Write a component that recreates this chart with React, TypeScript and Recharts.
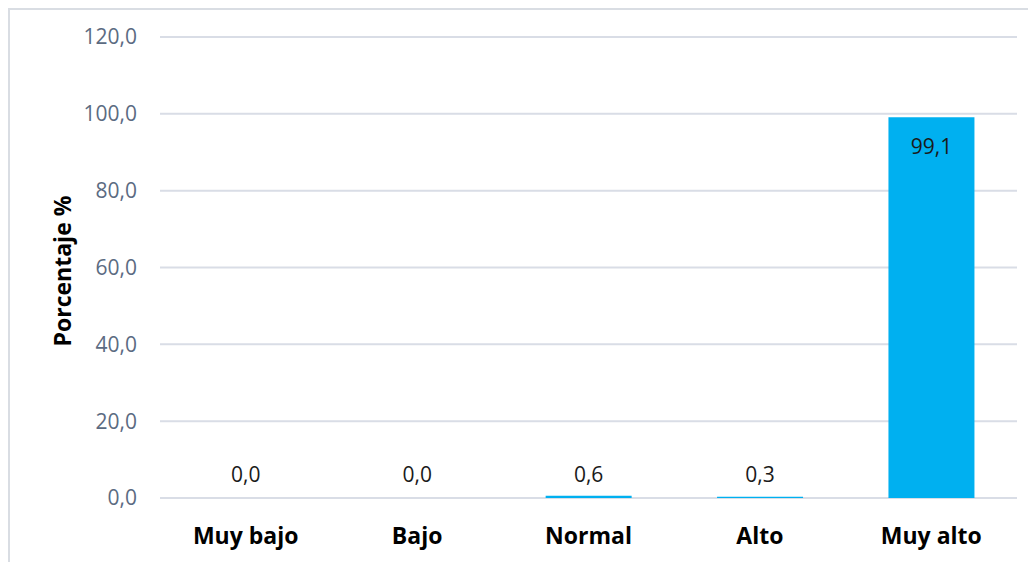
import React from 'react';
import { BarChart, Bar, XAxis, YAxis, CartesianGrid, LabelList } from 'recharts';

const categories = ['Muy bajo', 'Bajo', 'Normal', 'Alto', 'Muy alto'];
const percentages = [0.0, 0.0, 0.6, 0.3, 99.1];
const yTicks = [0, 20, 40, 60, 80, 100, 120];

const data = categories.map((c, i) => ({ name: c, value: percentages[i] }));

const FONT = '"Open Sans", "Noto Sans", sans-serif';
const fmt = (v: number) => v.toFixed(1).replace('.', ',');

const DataLabel = (props: any) => {
  const { x, y, width, height, value } = props;
  const cx = x + width / 2;
  const inside = value > 50;
  const ty = inside ? y + 29 : y + height - 24;
  return (
    <text x={cx} y={ty} textAnchor="middle" dominantBaseline="central" fill="#1a1a1a" fontSize={21} fontFamily={FONT}>
      {fmt(value)}
    </text>
  );
};

const YTitle = (props: any) => {
  const cy = 261;
  const cx = 52;
  return (
    <text x={cx} y={cy} transform={`rotate(-90 ${cx} ${cy})`} textAnchor="middle" dominantBaseline="central" fontWeight="bold" fontSize={23} fill="#000" fontFamily={FONT}>
      Porcentaje %
    </text>
  );
};

export default function App() {
  return (
    <div style={{ width: 1026, height: 552, borderLeft: '2px solid #d9dde3', borderTop: '2px solid #d9dde3', background: '#fff' }}>
      <BarChart width={1026} height={552} data={data} margin={{ top: 27, right: 19, left: 40, bottom: 0 }} barCategoryGap="25%">
        <CartesianGrid vertical={false} stroke="#d9dde6" strokeWidth={2} />
        <XAxis dataKey="name" axisLine={false} tickLine={false} tickSize={0} tickMargin={30} height={64}
          tick={{ fill: '#000', fontSize: 23, fontWeight: 'bold', fontFamily: FONT }} interval={0} />
        <XAxis dataKey="name" xAxisId="lbl" hide />
        <YAxis domain={[0, 120]} ticks={yTicks} width={110} axisLine={false} tickLine={false} tickSize={0} tickMargin={23}
          tickFormatter={fmt} tick={{ fill: '#5b6b82', fontSize: 21, fontFamily: FONT }} label={<YTitle />} />
        <Bar dataKey="value" fill="#00b0f0" isAnimationActive={false} />
        <Bar dataKey="value" xAxisId="lbl" fill="transparent" minPointSize={1} isAnimationActive={false}>
          <LabelList dataKey="value" content={<DataLabel />} />
        </Bar>
      </BarChart>
    </div>
  );
}
